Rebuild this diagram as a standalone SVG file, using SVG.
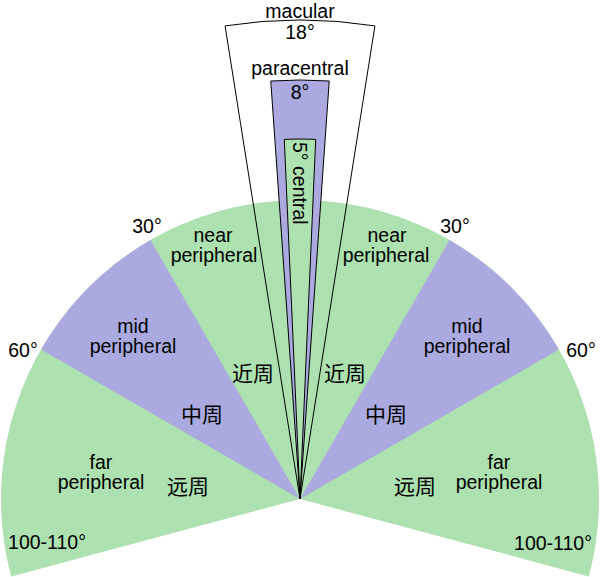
<svg xmlns="http://www.w3.org/2000/svg" width="600" height="577" viewBox="0 0 600 577">
<style>
.g{fill:#ade1af;stroke:none}
.p{fill:#aaaae0;stroke:none}
.ln{stroke:#000;stroke-width:1;stroke-linejoin:miter}
text{font-family:"Liberation Sans",Arial,sans-serif;font-size:19.5px;fill:#000;text-anchor:middle}
.cjk{font-family:"Noto Sans CJK SC","Noto Sans CJK TC",sans-serif;font-size:21px}
</style>
<rect width="600" height="577" fill="#fff"/>
<g id="fan">
<path class="g" d="M300,499 L11.2,576.4 A299,299 0 1 1 588.8,576.4 Z"/>
<path class="p" d="M300,499 L41.1,349.5 A299,299 0 0 1 150.5,240.1 Z"/>
<path class="p" d="M300,499 L449.5,240.1 A299,299 0 0 1 558.9,349.5 Z"/>
</g>
<g id="macular">
<path class="ln" fill="none" d="M300,499 L225.07,25.9 A479,479 0 0 1 374.93,25.9 Z"/>
<text x="300" y="17.5">macular</text>
<text x="300" y="39">18°</text>
</g>
<g id="paracentral">
<path class="ln" fill="#aaaae0" d="M300,499 L270.77,81.02 A419,419 0 0 1 329.23,81.02 Z"/>
<text x="300" y="75">paracentral</text>
<text x="300" y="99">8°</text>
</g>
<g id="central">
<path class="ln" fill="#ade1af" d="M300,499 L284.3,139.34 A360,360 0 0 1 315.7,139.34 Z"/>
<text transform="translate(293,142) rotate(90)" style="text-anchor:start">5° central</text>
</g>
<g id="near-left">
<text x="213" y="242">near</text>
<text x="214" y="262">peripheral</text>
<text class="cjk" x="253" y="381">近周</text>
</g>
<g id="near-right">
<text x="387" y="242">near</text>
<text x="386" y="262">peripheral</text>
<text class="cjk" x="345" y="381">近周</text>
</g>
<g id="mid-left">
<text x="133" y="333">mid</text>
<text x="133" y="353">peripheral</text>
<text class="cjk" x="202" y="422">中周</text>
</g>
<g id="mid-right">
<text x="467" y="333">mid</text>
<text x="467" y="353">peripheral</text>
<text class="cjk" x="386" y="422">中周</text>
</g>
<g id="far-left">
<text x="101" y="469">far</text>
<text x="101" y="489">peripheral</text>
<text class="cjk" x="188" y="494">远周</text>
</g>
<g id="far-right">
<text x="499" y="469">far</text>
<text x="499" y="489">peripheral</text>
<text class="cjk" x="415" y="494">远周</text>
</g>
<g id="angle-labels">
<text x="147" y="233">30°</text>
<text x="455" y="233">30°</text>
<text x="23" y="357">60°</text>
<text x="581" y="357">60°</text>
<text x="47" y="549">100-110°</text>
<text x="553" y="550">100-110°</text>
</g>
</svg>
